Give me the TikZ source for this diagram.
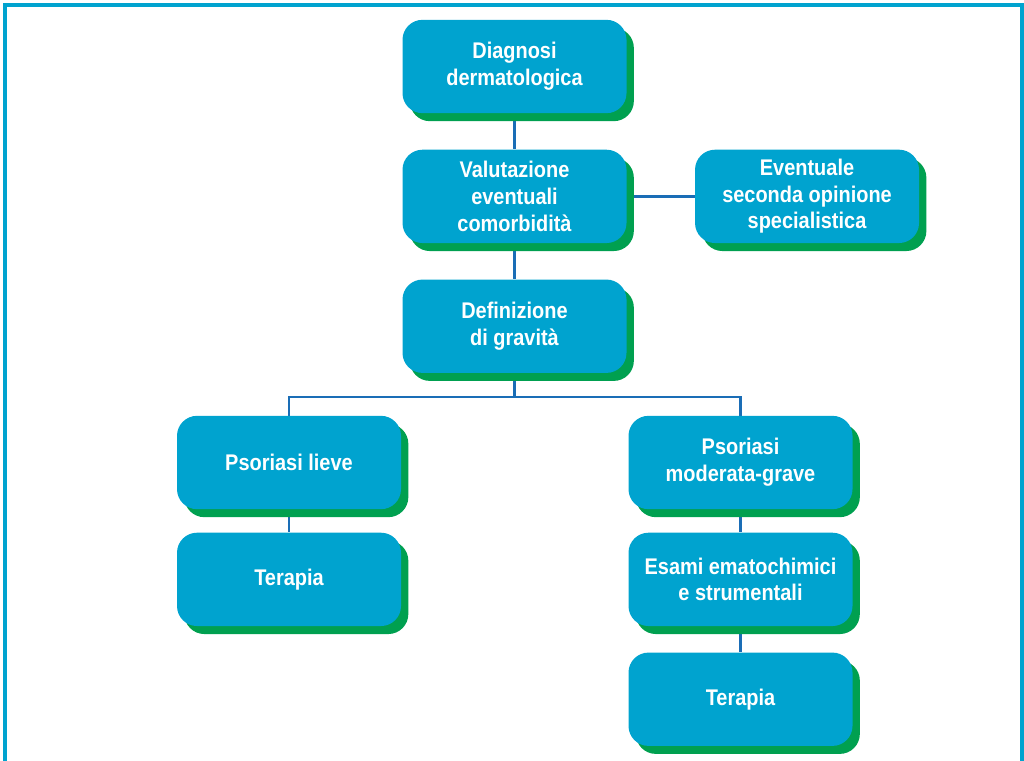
\documentclass[tikz,border=0pt]{standalone}
\usepackage{fontspec}
\setmainfont[FakeStretch=0.88]{Liberation Sans}
\usepackage{tikz}
\usetikzlibrary{positioning, shadows}
\pgfdeclarelayer{background}
\pgfsetlayers{background,main}
\definecolor{boxblue}{HTML}{00A3CF}
\definecolor{shadegreen}{HTML}{00A050}
\definecolor{linkblue}{HTML}{1A6DB6}
\tikzstyle{stepbox} = [rectangle, rounded corners=15pt, minimum width=168pt, minimum height=70pt, text centered, fill=boxblue, text=white, font=\fontsize{17pt}{20pt}\selectfont\bfseries, drop shadow={shadow xshift=5.5pt, shadow yshift=-6pt, fill=shadegreen, opacity=1}]
\tikzstyle{link}    = [linkblue, line width=1.8pt]
\tikzset{every node/.style={align=center}}

\begin{document}
\begin{tikzpicture}[x=0.75pt, y=-0.75pt]
    \useasboundingbox (0,0) rectangle (1024,760);
    \draw [boxblue, line width=2.4pt] (5,765) -- (5,5) -- (1022,5) -- (1022,765);

    \node (dia)  [stepbox] at (514.5,66.5) {Diagnosi\\dermatologica};
    \node (val)  [stepbox, below=27pt of dia] {Valutazione\\eventuali\\comorbidità};
    \node (sec)  [stepbox, right=51pt of val] {Eventuale\\seconda opinione\\specialistica};
    \node (def)  [stepbox, below=27pt of val] {Definizione\\di gravità};
    \node (lie)  [stepbox] at (289,462.5) {Psoriasi lieve};
    \node (ter1) [stepbox, below=17.25pt of lie] {Terapia};
    \node (mod)  [stepbox] at (740.5,462.5) {Psoriasi\\moderata-grave};
    \node (esa)  [stepbox, below=17.25pt of mod] {Esami ematochimici\\e strumentali};
    \node (ter2) [stepbox, below=19.5pt of esa] {Terapia};
    \coordinate (bus) at (514.5,397);

    \begin{pgfonlayer}{background}
    \draw [link] (dia.south) -- (val.north);
    \draw [link] (val.east) -- (sec.west);
    \draw [link] (val.south) -- (def.north);
    \draw [link] (def.south) -- (bus);
    \draw [link] (lie.north) |- (bus) -| (mod.north);
    \draw [link] (lie.south) -- (ter1.north);
    \draw [link] (mod.south) -- (esa.north);
    \draw [link] (esa.south) -- (ter2.north);
    \end{pgfonlayer}
\end{tikzpicture}
\end{document}
